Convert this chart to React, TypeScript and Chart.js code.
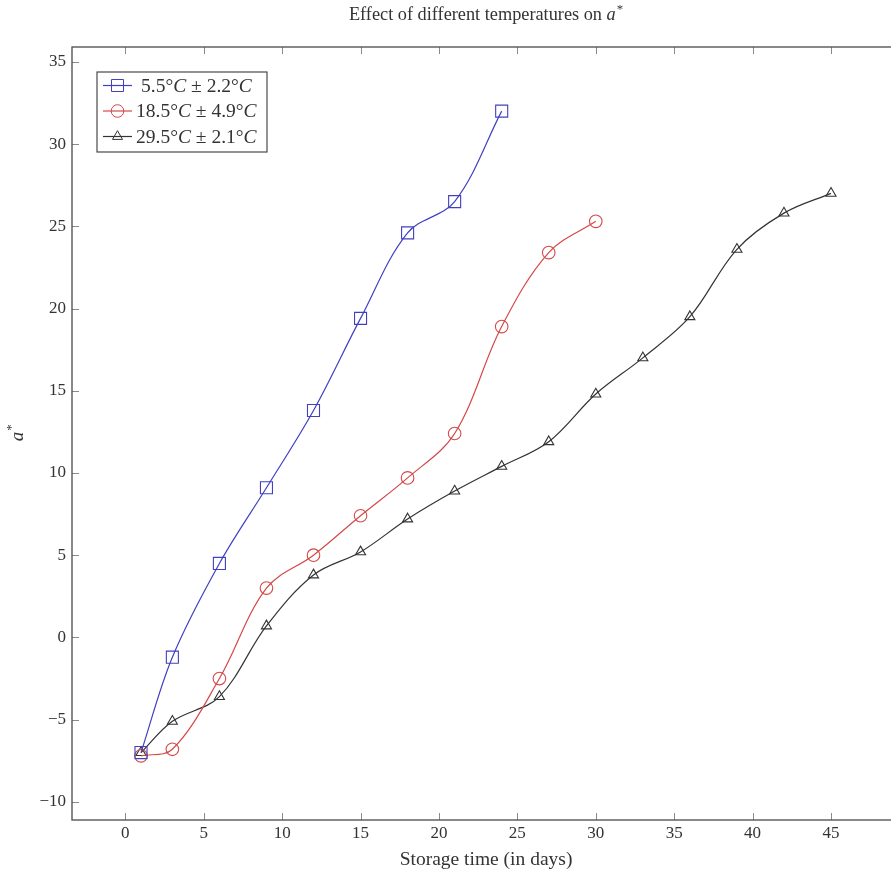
import React, { useEffect, useRef } from "react";
import { Chart, registerables } from "chart.js";

Chart.register(...registerables);

// ---- data ----
const daysLow = [1, 3, 6, 9, 12, 15, 18, 21, 24];
const valuesLow = [-7.0, -1.2, 4.5, 9.1, 13.8, 19.4, 24.6, 26.5, 32.0];

const daysMid = [1, 3, 6, 9, 12, 15, 18, 21, 24, 27, 30];
const valuesMid = [-7.2, -6.8, -2.5, 3.0, 5.0, 7.4, 9.7, 12.4, 18.9, 23.4, 25.3];

const daysHigh = [1, 3, 6, 9, 12, 15, 18, 21, 24, 27, 30, 33, 36, 39, 42, 45];
const valuesHigh = [-7.0, -5.1, -3.6, 0.7, 3.8, 5.2, 7.2, 8.9, 10.4, 11.9, 14.8, 17.0, 19.5, 23.6, 25.8, 27.0];

// legend labels: mean ± spread (°C)
const legendLow = ["5.5", "2.2"];
const legendMid = ["18.5", "4.9"];
const legendHigh = ["29.5", "2.1"];

const xTickValues = [0, 5, 10, 15, 20, 25, 30, 35, 40, 45];
const yTickValues = [-10, -5, 0, 5, 10, 15, 20, 25, 30, 35];

const titleText = "Effect of different temperatures on ";
const xLabel = "Storage time (in days)";

const FONT = "'Liberation Serif', 'DejaVu Serif', serif";
const AXIS_COLOR = "#4a4a4a";
const TICK_COLOR = "#8a8a8a";
const TEXT_COLOR = "#333333";

const toPoints = (xs: number[], ys: number[]) => xs.map((x, i) => ({ x, y: ys[i] }));

function drawMarker(ctx: CanvasRenderingContext2D, style: string, x: number, y: number, r: number) {
  ctx.beginPath();
  if (style === "rect") {
    const s = Math.SQRT1_2 * r;
    ctx.rect(x - s, y - s, 2 * s, 2 * s);
  } else if (style === "circle") {
    ctx.arc(x, y, r, 0, Math.PI * 2);
  } else {
    const rad = -Math.PI / 2;
    ctx.moveTo(x + Math.cos(rad) * r, y + Math.sin(rad) * r);
    ctx.lineTo(x + Math.cos(rad + (2 * Math.PI) / 3) * r, y + Math.sin(rad + (2 * Math.PI) / 3) * r);
    ctx.lineTo(x + Math.cos(rad + (4 * Math.PI) / 3) * r, y + Math.sin(rad + (4 * Math.PI) / 3) * r);
    ctx.closePath();
  }
  ctx.stroke();
}

function drawMathLabel(ctx: CanvasRenderingContext2D, parts: [string, boolean][], x: number, y: number, size: number) {
  let cx = x;
  for (const [t, italic] of parts) {
    ctx.font = `${italic ? "italic " : ""}${size}px ${FONT}`;
    ctx.fillText(t, cx, y);
    cx += ctx.measureText(t).width;
  }
}

const decorPlugin = {
  id: "decor",
  afterDatasetsDraw(chart: any) {
    const { ctx, chartArea } = chart;
    const { left, right, top, bottom } = chartArea;
    const xs = chart.scales.x;
    const ys = chart.scales.y;
    ctx.save();
    // inward ticks on all four sides
    ctx.strokeStyle = TICK_COLOR;
    ctx.lineWidth = 1;
    const tl = 7;
    for (const v of xTickValues) {
      const px = Math.round(xs.getPixelForValue(v)) + 0.5;
      ctx.beginPath();
      ctx.moveTo(px, bottom);
      ctx.lineTo(px, bottom - tl);
      ctx.moveTo(px, top);
      ctx.lineTo(px, top + tl);
      ctx.stroke();
    }
    for (const v of yTickValues) {
      const py = Math.round(ys.getPixelForValue(v)) + 0.5;
      ctx.beginPath();
      ctx.moveTo(left, py);
      ctx.lineTo(left + tl, py);
      ctx.moveTo(right, py);
      ctx.lineTo(right - tl, py);
      ctx.stroke();
    }
    // frame
    ctx.strokeStyle = AXIS_COLOR;
    ctx.lineWidth = 1.3;
    ctx.strokeRect(left, top, right - left, bottom - top);

    // legend
    const bx = left + 25;
    const by = top + 25;
    const bw = 170;
    const bh = 80;
    ctx.fillStyle = "#ffffff";
    ctx.fillRect(bx, by, bw, bh);
    ctx.strokeStyle = AXIS_COLOR;
    ctx.lineWidth = 1.2;
    ctx.strokeRect(bx, by, bw, bh);
    const rows = [legendLow, legendMid, legendHigh];
    chart.data.datasets.forEach((ds: any, i: number) => {
      const ry = by + 13.5 + i * 25.5;
      ctx.strokeStyle = ds.borderColor;
      ctx.lineWidth = ds.borderWidth;
      ctx.beginPath();
      ctx.moveTo(bx + 6, ry);
      ctx.lineTo(bx + 35, ry);
      ctx.stroke();
      ctx.lineWidth = 1;
      drawMarker(ctx, ds.pointStyle, bx + 20.5, ry, ds.pointRadius);
      ctx.fillStyle = TEXT_COLOR;
      ctx.textBaseline = "middle";
      ctx.textAlign = "left";
      const [a, b] = rows[i];
      drawMathLabel(
        ctx,
        [
          [a + "°", false],
          ["C", true],
          [" ± " + b + "°", false],
          ["C", true],
        ],
        bx + 39 + (i === 0 ? 5 : 0),
        ry + 1,
        19.5
      );
    });
    ctx.restore();
  },
  afterDraw(chart: any) {
    const { ctx, chartArea } = chart;
    const cx = (chartArea.left + chartArea.right) / 2;
    ctx.save();
    ctx.fillStyle = TEXT_COLOR;
    ctx.textBaseline = "alphabetic";
    ctx.textAlign = "left";
    // title
    const size = 18.3;
    ctx.font = `${size}px ${FONT}`;
    const w1 = ctx.measureText(titleText).width;
    ctx.font = `italic ${size}px ${FONT}`;
    const w2 = ctx.measureText("a").width;
    ctx.font = `${size * 0.7}px ${FONT}`;
    const w3 = ctx.measureText("*").width;
    const tx = cx - (w1 + w2 + w3 + 1) / 2;
    const ty = 20;
    ctx.font = `${size}px ${FONT}`;
    ctx.fillText(titleText, tx, ty);
    ctx.font = `italic ${size}px ${FONT}`;
    ctx.fillText("a", tx + w1, ty);
    ctx.font = `${size * 0.7}px ${FONT}`;
    ctx.fillText("*", tx + w1 + w2 + 1, ty - 7);

    // x label
    ctx.font = `19.5px ${FONT}`;
    ctx.textAlign = "center";
    ctx.textBaseline = "middle";
    ctx.fillText(xLabel, cx, 860);

    // y label (rotated)
    const cy = (chartArea.top + chartArea.bottom) / 2;
    ctx.translate(23, cy);
    ctx.rotate(-Math.PI / 2);
    ctx.textAlign = "left";
    ctx.textBaseline = "alphabetic";
    ctx.font = `italic 19px ${FONT}`;
    const wa = ctx.measureText("a").width;
    ctx.fillText("a", -wa / 2 - 3, 0);
    ctx.font = `13px ${FONT}`;
    ctx.fillText("*", wa / 2 - 2, -8);
    ctx.restore();
  },
};

export default function App() {
  const ref = useRef<HTMLCanvasElement | null>(null);
  useEffect(() => {
    if (!ref.current) return;
    const chart = new Chart(ref.current, {
      type: "line",
      data: {
        datasets: [
          {
            label: "low",
            data: toPoints(daysLow, valuesLow),
            borderColor: "#4040c0",
            backgroundColor: "transparent",
            pointStyle: "rect",
            pointRadius: 8.5,
            pointBorderWidth: 1.1,
            pointBackgroundColor: "transparent",
            borderWidth: 1.2,
            tension: 0.35,
          },
          {
            label: "mid",
            data: toPoints(daysMid, valuesMid),
            borderColor: "#d44848",
            backgroundColor: "transparent",
            pointStyle: "circle",
            pointRadius: 6.3,
            pointBorderWidth: 1.1,
            pointBackgroundColor: "transparent",
            borderWidth: 1.2,
            tension: 0.35,
          },
          {
            label: "high",
            data: toPoints(daysHigh, valuesHigh),
            borderColor: "#333333",
            backgroundColor: "transparent",
            pointStyle: "triangle",
            pointRadius: 5.8,
            pointBorderWidth: 1.1,
            pointBackgroundColor: "transparent",
            borderWidth: 1.2,
            tension: 0.35,
          },
        ],
      },
      options: {
        responsive: false,
        animation: false,
        events: [],
        layout: { autoPadding: false, padding: { left: 0, right: 0, top: 47, bottom: 0 } },
        plugins: {
          legend: { display: false },
          title: { display: false },
          tooltip: { enabled: false },
        },
        scales: {
          x: {
            type: "linear",
            min: -3.4,
            max: 49.4,
            grid: { display: false, drawTicks: false },
            border: { display: false },
            afterBuildTicks: (s: any) => {
              s.ticks = xTickValues.map((v) => ({ value: v }));
            },
            afterFit: (s: any) => {
              s.height = 54;
              s.paddingLeft = 0;
              s.paddingRight = 0;
            },
            ticks: {
              padding: 3,
              color: TEXT_COLOR,
              font: { family: FONT, size: 17 },
              maxRotation: 0,
              autoSkip: false,
            },
          },
          y: {
            type: "linear",
            min: -11.1,
            max: 35.9,
            grid: { display: false, drawTicks: false },
            border: { display: false },
            afterBuildTicks: (s: any) => {
              s.ticks = yTickValues.map((v) => ({ value: v }));
            },
            afterFit: (s: any) => {
              s.width = 72;
              s.paddingTop = 0;
              s.paddingBottom = 0;
            },
            ticks: {
              padding: 6,
              color: TEXT_COLOR,
              font: { family: FONT, size: 17 },
              autoSkip: false,
              callback: (v: any) => (v < 0 ? "\u2212" + Math.abs(v) : String(v)),
            },
          },
        },
      },
      plugins: [decorPlugin],
    });
    return () => chart.destroy();
  }, []);

  return (
    <div
      style={{
        position: "fixed",
        left: 0,
        top: 0,
        width: 891,
        height: 874,
        overflow: "hidden",
        background: "#ffffff",
      }}
    >
      <div style={{ width: 900, height: 874 }}>
        <canvas ref={ref} width={900} height={874} style={{ display: "block", width: 900, height: 874 }} />
      </div>
    </div>
  );
}
